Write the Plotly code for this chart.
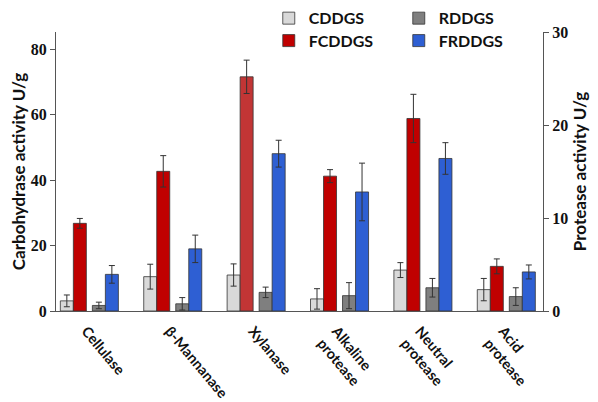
import plotly.graph_objects as go

categories = ["Cellulase", "β-Mannanase", "Xylanase", "Alkaline<br>protease", "Neutral<br>protease", "Acid<br>protease"]
series = ["CDDGS", "FCDDGS", "RDDGS", "FRDDGS"]

# Carbohydrase activity (left axis, U/g): Cellulase, β-Mannanase, Xylanase
carb_vals = {
    "CDDGS":  [3.1, 10.5, 11.0],
    "FCDDGS": [26.8, 42.7, 71.6],
    "RDDGS":  [1.7, 2.2, 5.7],
    "FRDDGS": [11.2, 19.0, 48.1],
}
carb_err = {
    "CDDGS":  [1.8, 3.8, 3.4],
    "FCDDGS": [1.5, 4.8, 5.1],
    "RDDGS":  [1.0, 1.9, 1.6],
    "FRDDGS": [2.7, 4.2, 4.1],
}
# Protease activity (right axis, U/g): Alkaline, Neutral, Acid
prot_vals = {
    "CDDGS":  [1.3, 4.4, 2.3],
    "FCDDGS": [14.5, 20.7, 4.8],
    "RDDGS":  [1.65, 2.5, 1.55],
    "FRDDGS": [12.8, 16.4, 4.2],
}
prot_err = {
    "CDDGS":  [1.1, 0.8, 1.2],
    "FCDDGS": [0.7, 2.6, 0.8],
    "RDDGS":  [1.4, 1.0, 0.95],
    "FRDDGS": [3.1, 1.7, 0.75],
}

colors = {"CDDGS": "#d9d9d9", "FCDDGS": "#c00000", "RDDGS": "#7f7f7f", "FRDDGS": "#2e5fd3"}
carb_colors = {"FCDDGS": ["#c00000", "#c00000", "#c23535"]}
offsets = {"CDDGS": -0.348, "FCDDGS": -0.192, "RDDGS": 0.036, "FRDDGS": 0.192}
legend_of = {"CDDGS": "legend", "RDDGS": "legend", "FCDDGS": "legend2", "FRDDGS": "legend2"}
bar_w = 0.156

fig = go.Figure()
carb_x = [0, 1, 2]
prot_x = [3, 4, 5]
for s in ["CDDGS", "RDDGS", "FCDDGS", "FRDDGS"]:
    fig.add_trace(go.Bar(
        x=carb_x, y=carb_vals[s], name=s, legendgroup=s,
        width=bar_w, offset=offsets[s],
        error_y=dict(type="data", array=carb_err[s], color="#333333", thickness=1, width=3),
        marker_color=carb_colors.get(s, colors[s]),
        marker_line=dict(color="#333333", width=0.8),
        showlegend=True, legend=legend_of[s], yaxis="y",
    ))
    fig.add_trace(go.Bar(
        x=prot_x, y=prot_vals[s], name=s, legendgroup=s,
        width=bar_w, offset=offsets[s],
        error_y=dict(type="data", array=prot_err[s], color="#333333", thickness=1, width=3),
        marker_color=colors[s],
        marker_line=dict(color="#333333", width=0.8),
        showlegend=False, yaxis="y2",
    ))

tick_font = dict(family="Liberation Serif, Times New Roman, serif", size=16, color="#111111", weight="bold")
title_font = dict(family="Lato", size=17, color="#111111", weight="bold")
legend_font = dict(family="Lato", size=16, color="#111111", weight="bold")

fig.update_layout(
    width=590, height=394,
    margin=dict(l=48, r=55, t=24, b=91, autoexpand=False),
    paper_bgcolor="white", plot_bgcolor="white",
    barmode="overlay",
    xaxis=dict(
        range=[-0.4, 5.44], tickmode="array", tickvals=list(range(6)), ticktext=categories,
        tickangle=50, showline=True, linecolor="#555555", linewidth=1, ticks="",
        showgrid=False, zeroline=False, automargin=False,
        ticklabelstandoff=5, ticklabelshift=-3,
        tickfont=dict(family="Lato", size=14.5, color="#111111", weight="bold"),
    ),
    yaxis=dict(
        range=[0, 85.3], tickvals=[0, 20, 40, 60, 80], ticks="outside", ticklen=5,
        tickcolor="#555555", showline=True, linecolor="#555555", linewidth=1,
        showgrid=False, zeroline=False, tickfont=tick_font, automargin=False,
        title=dict(text="Carbohydrase activity U/g", font=title_font, standoff=6),
    ),
    yaxis2=dict(
        range=[0, 30], tickvals=[0, 10, 20, 30], ticks="outside", ticklen=5,
        tickcolor="#555555", showline=True, linecolor="#555555", linewidth=1,
        overlaying="y", side="right", automargin=False,
        showgrid=False, zeroline=False, tickfont=tick_font,
        title=dict(text="Protease activity U/g", font=title_font, standoff=6),
    ),
    legend=dict(
        orientation="h", xref="container", yref="container",
        x=0.442, y=0.974, xanchor="left", yanchor="middle",
        font=legend_font, entrywidth=85, entrywidthmode="pixels",
        bgcolor="rgba(0,0,0,0)", traceorder="normal",
    ),
    legend2=dict(
        orientation="h", xref="container", yref="container",
        x=0.442, y=0.917, xanchor="left", yanchor="middle",
        font=legend_font, entrywidth=85, entrywidthmode="pixels",
        bgcolor="rgba(0,0,0,0)", traceorder="normal",
    ),
)

fig.write_html("out.html")
